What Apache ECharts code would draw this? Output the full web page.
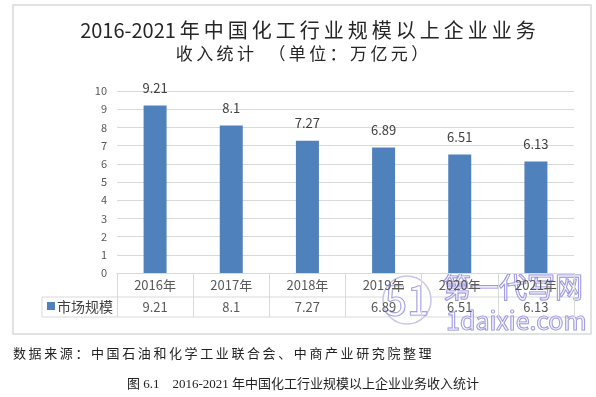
<!DOCTYPE html>
<html>
<head>
<meta charset="utf-8">
<title>2016-2021年中国化工行业规模以上企业业务收入统计</title>
<script src="https://cdn.jsdelivr.net/npm/echarts@6/dist/echarts.min.js"></script>
<style>
  html, body { margin: 0; padding: 0; background: #fff; }
  #main { width: 596px; height: 397px; }
</style>
</head>
<body>
<div id="main"></div>
<script>
var years = ['2016年', '2017年', '2018年', '2019年', '2020年', '2021年'];
var income = [9.21, 8.1, 7.27, 6.89, 6.51, 6.13];
var yTicks = [0, 1, 2, 3, 4, 5, 6, 7, 8, 9, 10];
var seriesName = '市场规模';

(function() {
  'use strict';
  var echarts = window.echarts;
  var myChart = echarts.init(document.getElementById('main'));
  var cjk = '"Noto Sans CJK SC", "Noto Sans", sans-serif';
  var line = '#d9d9d9';

  // 表格里每一列：年份 + 数值
  function tableLabel(value, idx) {
    return '{a|' + value + '}\n{b|' + income[idx] + '}';
  }

  // 汉字之间加细空格，模仿原图较宽的字距
  function spread(s, gap) {
    var out = '';
    for (var i = 0; i < s.length; i++) {
      out += s[i];
      if (i < s.length - 1 && (s.charCodeAt(i) > 255 || s.charCodeAt(i + 1) > 255)) {
        out += gap;
      }
    }
    return out;
  }

  var option = {
    animation: false,
    grid: { left: 117, right: 22, top: 91, bottom: 124 },
    xAxis: {
      type: 'category',
      data: years,
      axisLine: { lineStyle: { color: line, width: 1 } },
      axisTick: { show: true, length: 44, lineStyle: { color: line } },
      axisLabel: {
        margin: 1,
        formatter: tableLabel,
        rich: {
          a: { fontFamily: cjk, fontSize: 13, color: '#595959', lineHeight: 23 },
          b: { fontFamily: cjk, fontSize: 13, color: '#595959', lineHeight: 21 }
        }
      }
    },
    yAxis: {
      type: 'value',
      min: yTicks[0],
      max: yTicks[yTicks.length - 1],
      interval: 1,
      axisLine: { show: false },
      axisTick: { show: false },
      axisLabel: { margin: 10, fontFamily: cjk, fontSize: 11, color: '#595959' },
      splitLine: { lineStyle: { color: line, width: 1 } }
    },
    series: [{
      name: seriesName,
      type: 'bar',
      data: income,
      barWidth: 23,
      itemStyle: { color: '#4f81bd' },
      label: {
        show: true,
        position: 'top',
        distance: 11,
        fontFamily: cjk,
        fontSize: 13,
        color: '#404040'
      }
    }],
    graphic: [
      // 外框
      { type: 'rect', shape: { x: 13, y: 5, width: 578, height: 329 },
        style: { fill: 'none', stroke: line, lineWidth: 1.5 }, z: -1 },
      // 标题
      { type: 'text', x: 308, y: 30,
        style: { text: spread('2016-2021年中国化工行业规模以上企业业务', '\u2009'), fontFamily: cjk, fontSize: 20,
          fill: '#262626', align: 'center', verticalAlign: 'middle' } },
      { type: 'text', x: 302, y: 54,
        style: { text: spread('收入统计  （单位：万亿元）', '\u2009'), fontFamily: cjk, fontSize: 17,
          fill: '#262626', align: 'center', verticalAlign: 'middle' } },
      // 数据表格线
      { type: 'line', shape: { x1: 42, y1: 297, x2: 574, y2: 297 }, style: { stroke: line, lineWidth: 1 } },
      { type: 'line', shape: { x1: 42, y1: 317, x2: 574, y2: 317 }, style: { stroke: line, lineWidth: 1 } },
      { type: 'line', shape: { x1: 42, y1: 297, x2: 42, y2: 317 }, style: { stroke: line, lineWidth: 1 } },
      { type: 'rect', shape: { x: 47, y: 302, width: 8, height: 8 }, style: { fill: '#4f81bd' } },
      { type: 'text', x: 57, y: 307,
        style: { text: seriesName, fontFamily: cjk, fontSize: 14, fill: '#404040', verticalAlign: 'middle' } },
      // 水印
      { type: 'circle', shape: { cx: 407, cy: 300, r: 24 },
        style: { fill: 'rgba(255,255,255,0.7)', stroke: '#c9c4ee', lineWidth: 1.5 } },
      { type: 'text', x: 407, y: 300,
        style: { text: '51', fontFamily: cjk, fontSize: 40, fill: 'rgba(255,255,255,0.5)',
          stroke: '#8f86dc', lineWidth: 1.2, align: 'center', verticalAlign: 'middle' } },
      { type: 'text', x: 443, y: 287,
        style: { text: '第一代写网', fontFamily: cjk, fontSize: 28, fill: 'rgba(255,255,255,0.4)',
          stroke: '#8f86dc', lineWidth: 1.2, verticalAlign: 'middle' } },
      { type: 'text', x: 446, y: 320,
        style: { text: '1daixie.com', fontFamily: cjk, fontSize: 25, fill: 'rgba(255,255,255,0.4)',
          stroke: '#8f86dc', lineWidth: 1.2, verticalAlign: 'middle' } },
      // 来源与图注
      { type: 'text', x: 13, y: 353,
        style: { text: spread('数据来源：中国石油和化学工业联合会、中商产业研究院整理', '\u2009'), fontFamily: cjk,
          fontSize: 13, fill: '#222', verticalAlign: 'middle' } },
      { type: 'text', x: 127, y: 385,
        style: { text: '图 6.1　2016-2021 年中国化工行业规模以上企业业务收入统计',
          fontFamily: '"Liberation Serif", "Noto Sans CJK SC", serif', fontSize: 13, fill: '#222',
          verticalAlign: 'middle' } }
    ]
  };

  myChart.setOption(option);
}());
</script>
</body>
</html>
